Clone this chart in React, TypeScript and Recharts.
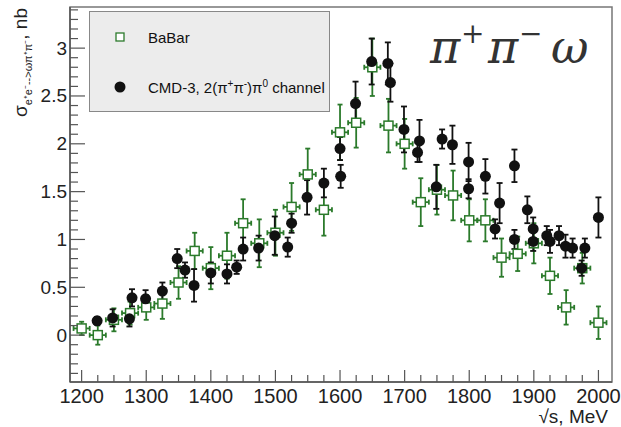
import React from 'react';
import { ScatterChart, Scatter, XAxis, YAxis, ErrorBar, ReferenceArea } from 'recharts';

// ---- data ----
const babarE = [1200, 1225, 1250, 1275, 1300, 1325, 1350, 1375, 1400, 1425, 1450, 1475, 1500, 1525, 1550, 1575, 1600, 1625, 1650, 1675, 1700, 1725, 1750, 1775, 1800, 1825, 1850, 1875, 1900, 1925, 1950, 1975, 2000];
const babarXs = [0.07, 0.0, 0.16, 0.23, 0.29, 0.33, 0.55, 0.88, 0.70, 0.83, 1.17, 0.96, 1.07, 1.34, 1.68, 1.31, 2.12, 2.22, 2.80, 2.19, 2.00, 1.39, 1.52, 1.46, 1.20, 1.20, 0.81, 0.85, 0.96, 0.62, 0.29, 0.70, 0.13];
const babarErr = [0.07, 0.10, 0.12, 0.12, 0.13, 0.16, 0.17, 0.19, 0.22, 0.24, 0.25, 0.25, 0.24, 0.25, 0.27, 0.27, 0.29, 0.26, 0.30, 0.28, 0.26, 0.25, 0.26, 0.26, 0.22, 0.22, 0.20, 0.18, 0.21, 0.19, 0.18, 0.16, 0.17];
const babarHalfBin = 12.5;

const cmdE = [1224, 1248, 1274, 1278, 1299, 1325, 1348, 1360, 1374, 1400, 1425, 1440, 1450, 1474, 1499, 1519, 1525, 1549, 1575, 1600, 1601, 1624, 1649, 1674, 1678, 1699, 1723, 1720, 1749, 1758, 1774, 1799, 1799, 1825, 1847, 1870, 1840, 1870, 1890, 1899, 1899, 1920, 1925, 1939, 1949, 1960, 1979, 1974, 2000];
const cmdXs = [0.15, 0.18, 0.17, 0.39, 0.38, 0.46, 0.80, 0.68, 0.52, 0.65, 0.64, 0.71, 0.90, 0.91, 1.04, 0.92, 1.17, 1.44, 1.59, 1.95, 1.66, 2.42, 2.86, 2.84, 2.64, 2.15, 2.03, 1.91, 1.55, 2.05, 1.99, 1.81, 1.53, 1.66, 1.38, 1.77, 1.11, 1.00, 1.31, 1.11, 0.98, 1.04, 0.98, 1.04, 0.93, 0.91, 0.91, 0.70, 1.23];
const cmdErr = [0.04, 0.09, 0.08, 0.09, 0.09, 0.09, 0.10, 0.08, 0.17, 0.11, 0.10, 0.07, 0.12, 0.13, 0.20, 0.10, 0.10, 0.18, 0.15, 0.12, 0.12, 0.23, 0.24, 0.22, 0.20, 0.24, 0.22, 0.10, 0.23, 0.10, 0.20, 0.20, 0.10, 0.18, 0.21, 0.17, 0.10, 0.10, 0.14, 0.12, 0.10, 0.10, 0.12, 0.10, 0.12, 0.10, 0.10, 0.08, 0.21];

const xTicks = [1200, 1225, 1250, 1275, 1300, 1325, 1350, 1375, 1400, 1425, 1450, 1475, 1500, 1525, 1550, 1575, 1600, 1625, 1650, 1675, 1700, 1725, 1750, 1775, 1800, 1825, 1850, 1875, 1900, 1925, 1950, 1975, 2000];
const yTicks = [-0.4, -0.3, -0.2, -0.1, 0, 0.1, 0.2, 0.3, 0.4, 0.5, 0.6, 0.7, 0.8, 0.9, 1, 1.1, 1.2, 1.3, 1.4, 1.5, 1.6, 1.7, 1.8, 1.9, 2, 2.1, 2.2, 2.3, 2.4, 2.5, 2.6, 2.7, 2.8, 2.9, 3, 3.1, 3.2, 3.3, 3.4];
const xDomain: [number, number] = [1182, 2021];
const yDomain: [number, number] = [-0.49, 3.43];

const yTitleMain = 'σ';
const yTitleSub = 'e⁺e⁻-->ωπ⁺π⁻';
const yTitleUnit = ', nb';

const babar = babarE.map((e, i) => ({ e, xs: babarXs[i], ey: babarErr[i], ex: babarHalfBin }));
const cmd = cmdE.map((e, i) => ({ e, xs: cmdXs[i], ey: cmdErr[i] }));

const GREEN = '#2b7a2b';
const FONT = '"Liberation Sans", Arial, Helvetica, sans-serif';
const TM = 3;

const YTick = (props: any) => {
  const { x, y, payload } = props;
  const v = payload.value;
  const major = Math.abs(v * 2 - Math.round(v * 2)) < 1e-6;
  const ax = x + TM;
  return (
    <g>
      <line x1={ax} x2={ax + (major ? 15 : 8)} y1={y} y2={y} stroke="#555" strokeWidth={1.2} />
      {major && (
        <text x={ax - 3} y={y + 6.5} textAnchor="end" fontFamily={FONT} fontSize={19} fill="#222">
          {String(Math.round(v * 10) / 10)}
        </text>
      )}
    </g>
  );
};

const XTick = (props: any) => {
  const { x, y, payload } = props;
  const v = payload.value;
  const major = v % 100 === 0;
  const ay = y - TM;
  return (
    <g>
      <line x1={x} x2={x} y1={ay} y2={ay - (major ? 12 : 7)} stroke="#555" strokeWidth={1.2} />
      {major && (
        <text x={x} y={ay + 21} textAnchor="middle" fontFamily={FONT} fontSize={20} fill="#222">
          {String(v)}
        </text>
      )}
    </g>
  );
};

const Square = (props: any) => {
  const { cx, cy } = props;
  return <rect x={cx - 4.5} y={cy - 4.5} width={9} height={9} fill="#fff" stroke={GREEN} strokeWidth={1.5} />;
};
const Dot = (props: any) => {
  const { cx, cy } = props;
  return <circle cx={cx} cy={cy} r={5.5} fill="#111" />;
};

export default function App() {
  return (
    <div style={{ position: 'absolute', left: 0, top: 0, width: 621, height: 427, background: '#fff' }}>
      <ScatterChart width={621} height={427} margin={{ top: 7, right: 9, bottom: 0, left: 0 }}>
        <XAxis
          type="number"
          dataKey="e"
          domain={xDomain}
          allowDataOverflow
          ticks={xTicks}
          interval={0}
          tick={<XTick />}
          tickLine={false}
          tickSize={0}
          tickMargin={TM}
          height={45}
          axisLine={{ stroke: '#555', strokeWidth: 1.5 }}
        />
        <YAxis
          type="number"
          dataKey="xs"
          domain={yDomain}
          allowDataOverflow
          ticks={yTicks}
          interval={0}
          tick={<YTick />}
          tickLine={false}
          tickSize={0}
          tickMargin={TM}
          width={70}
          axisLine={{ stroke: '#555', strokeWidth: 1.5 }}
        />
        <ReferenceArea x1={xDomain[0]} x2={xDomain[1]} y1={yDomain[0]} y2={yDomain[1]} fill="none" stroke="#777" strokeWidth={1.5} />
        <Scatter data={babar} isAnimationActive={false} shape={<Square />}>
          <ErrorBar dataKey="ey" direction="y" width={2.5} stroke={GREEN} strokeWidth={1.8} />
          <ErrorBar dataKey="ex" direction="x" width={2.5} stroke={GREEN} strokeWidth={1.8} />
        </Scatter>
        <Scatter data={cmd} isAnimationActive={false} shape={<Dot />}>
          <ErrorBar dataKey="ey" direction="y" width={3} stroke="#111" strokeWidth={1.8} />
        </Scatter>
      </ScatterChart>
      <svg width={621} height={427} style={{ position: 'absolute', left: 0, top: 0, pointerEvents: 'none' }}>
        {/* legend */}
        <rect x={89.5} y={11.5} width={240} height={100} fill="#ececec" stroke="#888" strokeWidth={1} />
        <rect x={116} y={33} width={8} height={8} fill="#fff" stroke={GREEN} strokeWidth={1.3} />
        <text x={148} y={42.5} fontFamily={FONT} fontSize={15} fill="#111">BaBar</text>
        <circle cx={120} cy={87} r={5.5} fill="#111" />
        <text x={148} y={93} fontFamily={FONT} fontSize={15} fill="#111">
          CMD-3, 2(π<tspan fontSize={10} dy={-6}>+</tspan><tspan dy={6}>π</tspan><tspan fontSize={10} dy={-6}>-</tspan><tspan dy={6}>)π</tspan><tspan fontSize={10} dy={-6}>0</tspan><tspan dy={6}> channel</tspan>
        </text>
        {/* y-axis title */}
        <g transform="translate(27,8) rotate(-90)">
          <text x={0} y={0} textAnchor="end" fontFamily={FONT} fontSize={19} fill="#222">
            {yTitleMain}<tspan fontSize={11} dy={5}>{yTitleSub}</tspan><tspan fontSize={19} dy={-5}>{yTitleUnit}</tspan>
          </text>
        </g>
        {/* x-axis title */}
        <text x={608} y={423} textAnchor="end" fontFamily={FONT} fontSize={19} fill="#222">√s, MeV</text>
        {/* channel label */}
        <g fontFamily='"DejaVu Serif", serif' fontStyle="italic" fill="#333">
          <text x={430} y={63} fontSize={46}>π</text>
          <text x={461} y={43} fontSize={28} fontStyle="normal">+</text>
          <text x={488} y={63} fontSize={46}>π</text>
          <text x={519} y={43} fontSize={28} fontStyle="normal">−</text>
          <text x={551} y={63} fontSize={46}>ω</text>
        </g>
      </svg>
    </div>
  );
}
